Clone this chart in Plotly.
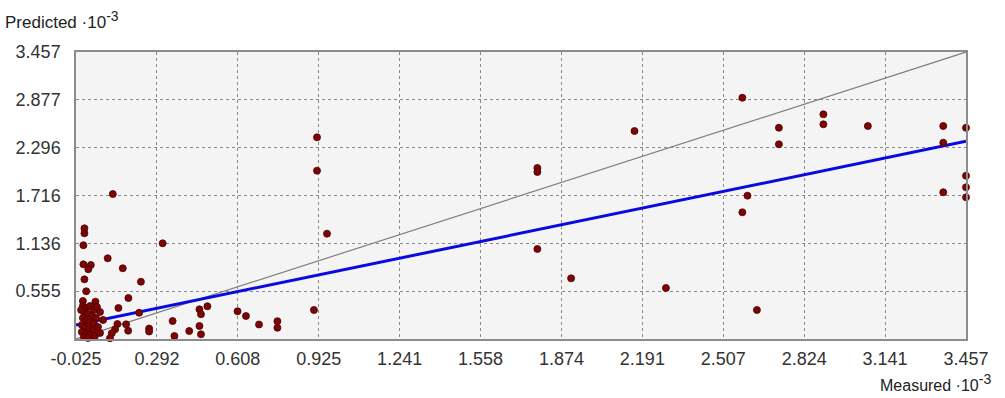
import plotly.graph_objects as go

# Axis ticks (values in units of 10^-3)
x_tick_labels = ["-0.025", "0.292", "0.608", "0.925", "1.241", "1.558", "1.874",
                 "2.191", "2.507", "2.824", "3.141", "3.457"]
y_tick_labels = ["0.555", "1.136", "1.716", "2.296", "2.877", "3.457"]
axis_min = -0.025
axis_max = 3.457

# Data points (Measured vs Predicted, x10^-3)
measured = [
    0.918, 0.918, 0.957, 1.780, 1.780, 1.780, 1.912, 2.160, 2.283,
    2.582, 2.725, 2.725, 2.899, 2.899, 3.073, 3.368, 3.368, 3.457, 3.457, 3.457, 3.457,
    3.368, 2.602, 2.582, 2.639,
    0.119, 0.008, 0.008, 0.004, 0.314, 0.004, 0.033, 0.023, 0.099, 0.158, 0.229,
    0.008, 0.015, 0.002, 0.180, 0.141, 0.051, 0.222, 0.458, 0.464, 0.489, 0.353,
    0.360, 0.418, 0.458, 0.464, 0.607, 0.640, 0.691, 0.763, 0.763, 0.906,
    0.261, 0.261, 0.171, 0.179, 0.137, 0.128, 0.115, 0.108,
    0.002, 0.014, 0.030, 0.045, 0.006, 0.022, 0.038, 0.053, 0.002, 0.014,
    0.030, 0.045, -0.002, 0.010, 0.026, 0.042, 0.061, -0.002, 0.014, 0.030,
    0.049, 0.069, 0.006, 0.022, 0.081, 0.069, -0.005, 0.057,
]
predicted = [
    2.422, 2.017, 1.253, 2.050, 2.001, 1.067, 0.711, 2.498, 0.594,
    2.902, 2.538, 2.337, 2.701, 2.580, 2.559, 2.559, 2.357, 2.538, 1.956, 1.815, 1.694,
    1.755, 1.714, 1.512, 0.327,
    1.734, 1.318, 1.257, 1.112, 1.136, 0.881, 0.873, 0.821, 0.954, 0.833, 0.670,
    0.699, 0.554, 0.436, 0.472, 0.351, 0.428, 0.294, 0.335, 0.275, 0.372, 0.193,
    0.011, 0.072, 0.133, 0.032, 0.311, 0.254, 0.151, 0.191, 0.111, 0.327,
    0.102, 0.066, 0.153, 0.076, 0.157, 0.093, 0.044, -0.016,
    0.375, 0.350, 0.375, 0.327, 0.303, 0.278, 0.254, 0.230, 0.230, 0.193,
    0.181, 0.157, 0.145, 0.108, 0.096, 0.084, 0.121, 0.060, 0.036, 0.024,
    0.011, 0.048, -0.001, -0.013, 0.206, 0.303, 0.327, 0.363,
]

# Regression line
fit_intercept = 0.161
fit_slope = 0.640

step_x = (axis_max - axis_min) / (len(x_tick_labels) - 1)
step_y = (axis_max - axis_min) / len(y_tick_labels)
x_tick_vals = [axis_min + i * step_x for i in range(len(x_tick_labels))]
y_tick_vals = [axis_min + (i + 1) * step_y for i in range(len(y_tick_labels))]

fig = go.Figure()

# identity line
fig.add_trace(go.Scatter(
    x=[axis_min, axis_max], y=[axis_min, axis_max], mode="lines",
    line=dict(color="#7f7f7f", width=1.2), hoverinfo="skip", showlegend=False))

# regression line
fig.add_trace(go.Scatter(
    x=[axis_min, axis_max],
    y=[fit_intercept + fit_slope * axis_min, fit_intercept + fit_slope * axis_max],
    mode="lines", line=dict(color="#0a0ae0", width=3), hoverinfo="skip", showlegend=False))

# points
fig.add_trace(go.Scatter(
    x=measured, y=predicted, mode="markers",
    marker=dict(size=7, color="#7d0505", line=dict(color="#4a0000", width=0.8)),
    cliponaxis=False, showlegend=False))

font_main = "Liberation Sans, Arial, sans-serif"
sup = "<sup><span style='font-size:14px'>-3</span></sup>"

fig.update_layout(
    width=1005, height=398,
    margin=dict(l=76, r=39, t=52, b=59),
    paper_bgcolor="white", plot_bgcolor="#f4f4f4",
    font=dict(family=font_main, size=18, color="#222222"),
    xaxis=dict(range=[axis_min, axis_max], tickvals=x_tick_vals, ticktext=x_tick_labels,
               showgrid=True, gridcolor="#8a8a8a", griddash="dot", gridwidth=1,
               zeroline=False, showline=True, linecolor="#8c8c8c", linewidth=1.5,
               mirror=True, ticks="", ticklabelstandoff=3,
               tickfont=dict(size=18, family=font_main, color="#333333")),
    yaxis=dict(range=[axis_min, axis_max], tickvals=y_tick_vals, ticktext=y_tick_labels,
               showgrid=True, gridcolor="#8a8a8a", griddash="dot", gridwidth=1,
               zeroline=False, showline=True, linecolor="#8c8c8c", linewidth=1.5,
               mirror=True, ticks="", ticklabelstandoff=10,
               tickfont=dict(size=18, family=font_main, color="#333333")),
    annotations=[
        dict(text="Predicted ·10" + sup, xref="paper", yref="paper",
             x=-0.082, y=1.11, xanchor="left", yanchor="middle", showarrow=False,
             font=dict(size=17, family=font_main, color="#222222")),
        dict(text="Measured ·10" + sup, xref="paper", yref="paper",
             x=1.03, y=-0.2, xanchor="right", yanchor="bottom", showarrow=False,
             font=dict(size=16, family=font_main, color="#222222")),
    ],
)

fig.write_html("out.html", config={"displayModeBar": False},
               post_script="document.body.style.margin='0';")
